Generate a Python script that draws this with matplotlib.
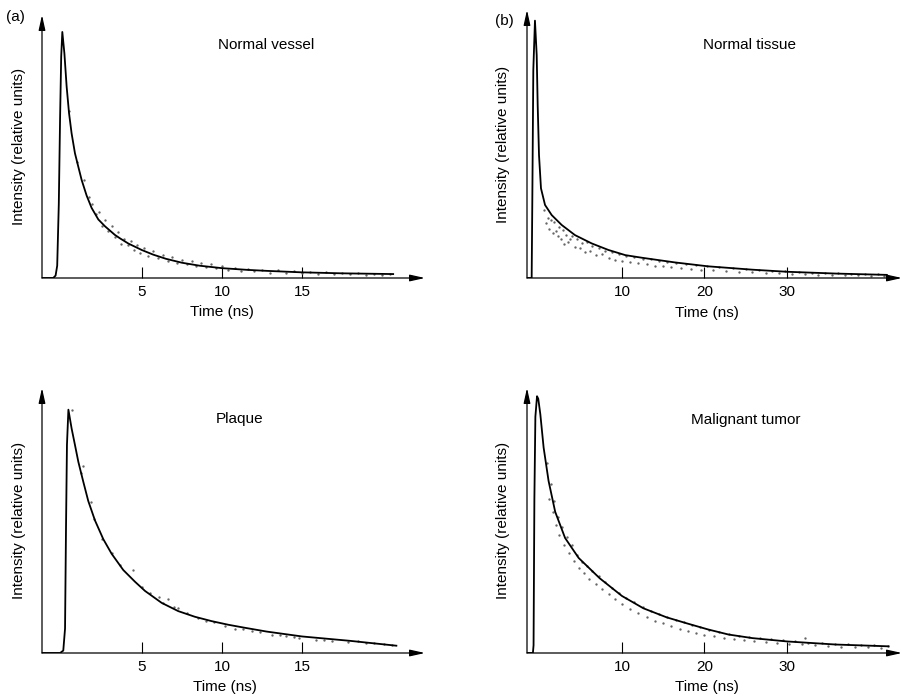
import matplotlib.pyplot as plt
import numpy as np

plt.rcParams['font.family'] = ['Liberation Sans', 'DejaVu Sans']

# ---- (a) normal vessel ----
a_curve_t = [-1.2, -0.55, -0.4, -0.3, -0.2, -0.12, -0.05, 0.02, 0.15, 0.29, 0.44, 0.6, 0.81,
             1.02, 1.23, 1.54, 1.85, 2.27, 2.69, 3.31, 3.63, 4.15, 4.98, 5.7, 6.5, 7.5, 8.6,
             10.0, 11.6, 12.8, 15.0, 17.5, 20.7]
a_curve_i = [0.0, 0.0, 0.01, 0.05, 0.3, 0.65, 0.9, 1.0, 0.913, 0.778, 0.67, 0.588, 0.507,
             0.452, 0.398, 0.335, 0.285, 0.238, 0.21, 0.175, 0.161, 0.14, 0.114, 0.095, 0.078,
             0.062, 0.05, 0.04, 0.033, 0.029, 0.023, 0.019, 0.016]
a_dot_t = [0.45, 0.95, 1.35, 1.7, 1.9, 2.1, 2.3, 2.5, 2.7, 2.9, 3.1, 3.3, 3.5, 3.7, 3.9, 4.1,
           4.3, 4.5, 4.7, 4.9, 5.1, 5.4, 5.7, 6.0, 6.3, 6.6, 6.9, 7.2, 7.5, 7.8, 8.1, 8.4, 8.7,
           9.0, 9.3, 9.6, 10.0, 10.4, 10.8, 11.2, 11.6, 12.0, 12.5, 13.0, 13.5, 14.0, 14.5,
           15.0, 15.5, 16.0, 16.5, 17.0, 17.5, 18.0, 18.5, 19.0, 19.5, 20.0, 20.5]
a_dot_i = [0.68, 0.47, 0.40, 0.33, 0.30, 0.26, 0.27, 0.21, 0.235, 0.19, 0.21, 0.165, 0.185,
           0.14, 0.16, 0.135, 0.15, 0.115, 0.135, 0.10, 0.12, 0.09, 0.108, 0.08, 0.095, 0.07,
           0.085, 0.062, 0.072, 0.055, 0.068, 0.05, 0.062, 0.043, 0.055, 0.04, 0.048, 0.034,
           0.042, 0.03, 0.038, 0.028, 0.034, 0.022, 0.031, 0.022, 0.028, 0.019, 0.026, 0.017,
           0.023, 0.016, 0.022, 0.015, 0.02, 0.014, 0.018, 0.013, 0.017]

# ---- (b) normal tissue ----
b_curve_t = [-1.5, -0.95, -0.87, -0.75, -0.55, -0.34, -0.22, -0.06, 0.18, 0.67, 1.48, 2.69,
             4.3, 6.33, 8.34, 10.4, 12.4, 14.4, 16.4, 20.4, 25.8, 30.0, 36.0, 42.1]
b_curve_i = [0.0, 0.0, 0.3, 0.8, 0.99, 0.858, 0.665, 0.473, 0.345, 0.281, 0.242, 0.204,
             0.165, 0.133, 0.108, 0.088, 0.078, 0.069, 0.06, 0.045, 0.032, 0.024, 0.017, 0.012]
b_dot_t = [0.6, 0.8, 1.0, 1.2, 1.4, 1.6, 1.8, 2.0, 2.2, 2.4, 2.6, 2.8, 3.0, 3.2, 3.4, 3.7, 4.0,
           4.3, 4.6, 4.9, 5.2, 5.5, 5.8, 6.1, 6.4, 6.8, 7.2, 7.6, 8.0, 8.4, 8.8, 9.2, 9.6, 10.0,
           10.5, 11.0, 11.5, 12.0, 12.5, 13.0, 13.5, 14.0, 14.5, 15.0, 15.5, 16.0, 16.6, 17.2,
           17.8, 18.4, 19.0, 19.6, 20.3, 21.0, 21.8, 22.6, 23.4, 24.2, 25.0, 25.8, 26.6, 27.4,
           28.2, 29.0, 29.8, 30.6, 31.4, 32.2, 33.0, 33.8, 34.6, 35.4, 36.2, 37.0, 37.8, 38.6,
           39.4, 40.2, 41.0, 41.8]
b_dot_i = [0.26, 0.21, 0.23, 0.19, 0.225, 0.175, 0.215, 0.18, 0.16, 0.195, 0.15, 0.185, 0.13,
           0.165, 0.14, 0.15, 0.16, 0.12, 0.15, 0.115, 0.135, 0.10, 0.14, 0.105, 0.125, 0.09,
           0.115, 0.092, 0.105, 0.078, 0.10, 0.07, 0.092, 0.066, 0.085, 0.06, 0.08, 0.058, 0.074,
           0.052, 0.072, 0.048, 0.066, 0.046, 0.062, 0.042, 0.058, 0.038, 0.052, 0.036, 0.05, 0.032,
           0.046, 0.03, 0.042, 0.028, 0.038, 0.025, 0.035, 0.022, 0.031, 0.02, 0.028, 0.018,
           0.026, 0.016, 0.024, 0.014, 0.021, 0.013, 0.02, 0.012, 0.018, 0.011, 0.016, 0.01,
           0.015, 0.009, 0.014, 0.009]

# ---- (c) plaque ----
c_curve_t = [-1.2, -0.12, 0.08, 0.19, 0.25, 0.31, 0.40, 0.6, 0.81, 1.02, 1.33, 1.64, 2.06,
             2.58, 3.1, 3.83, 4.56, 5.19, 6.23, 7.27, 8.3, 9.35, 10.4, 11.4, 12.8, 15.0, 18.0,
             20.9]
c_curve_i = [0.0, 0.0, 0.01, 0.1, 0.51, 0.855, 1.0, 0.923, 0.855, 0.786, 0.704, 0.625, 0.545,
             0.468, 0.408, 0.341, 0.293, 0.255, 0.206, 0.172, 0.149, 0.131, 0.116, 0.104, 0.088,
             0.068, 0.05, 0.03]
c_dot_t = [0.6, 1.33, 1.2, 1.8, 2.0, 2.5, 3.1, 3.6, 4.46, 5.0, 5.5, 6.04, 6.3, 6.6, 7.0, 7.25,
           7.8, 8.5, 9.0, 9.5, 10.2, 10.8, 11.3, 11.9, 12.4, 13.1, 13.6, 14.0, 14.5, 14.8, 15.9,
           16.4, 16.9, 17.9, 18.5, 19.0, 19.5, 20.1, 20.6]
c_dot_i = [1.0, 0.77, 0.74, 0.62, 0.55, 0.47, 0.41, 0.36, 0.34, 0.27, 0.245, 0.23, 0.205, 0.22,
           0.19, 0.185, 0.165, 0.144, 0.13, 0.128, 0.112, 0.10, 0.1, 0.092, 0.088, 0.075, 0.072,
           0.07, 0.066, 0.06, 0.055, 0.053, 0.05, 0.046, 0.048, 0.042, 0.04, 0.036, 0.033]

# ---- (d) malignant tumor ----
d_curve_t = [-1.5, -0.8, -0.72, -0.62, -0.5, -0.3, -0.15, 0.1, 0.5, 1.1, 1.9, 3.1, 4.75, 7.3,
             10.0, 12.6, 15.4, 17.8, 20.4, 22.9, 25.8, 30.0, 35.9, 42.3]
d_curve_i = [0.0, 0.0, 0.03, 0.6, 0.92, 1.0, 0.99, 0.93, 0.80, 0.67, 0.55, 0.448, 0.37, 0.291,
             0.222, 0.174, 0.139, 0.116, 0.092, 0.072, 0.058, 0.045, 0.033, 0.026]
d_dot_t = [0.9, 1.2, 1.4, 1.6, 1.8, 2.0, 2.2, 2.4, 2.7, 3.0, 3.3, 3.6, 3.9, 4.2, 4.5, 4.8, 5.1,
           5.4, 5.7, 6.0, 6.4, 6.8, 7.2, 7.6, 8.0, 8.4, 8.8, 9.2, 9.6, 10.0, 10.5, 11.0, 11.5,
           12.0, 12.5, 13.0, 13.5, 14.0, 14.5, 15.0, 15.5, 16.0, 16.5, 17.0, 17.5, 18.0, 18.5,
           19.0, 19.5, 20.0, 20.6, 21.2, 21.8, 22.4, 23.0, 23.6, 24.2, 24.8, 25.4, 26.0, 26.7,
           27.4, 28.1, 28.8, 29.5, 30.2, 31.0, 31.8, 32.2, 32.6, 33.4, 34.2, 35.0, 35.8, 36.6,
           37.4, 38.2, 39.0, 39.8, 40.6, 41.4, 42.2]
d_dot_i = [0.74, 0.60, 0.66, 0.55, 0.59, 0.50, 0.53, 0.46, 0.49, 0.42, 0.45, 0.39, 0.42, 0.36,
           0.38, 0.33, 0.355, 0.31, 0.34, 0.29, 0.32, 0.27, 0.30, 0.25, 0.275, 0.23, 0.255, 0.21,
           0.235, 0.19, 0.215, 0.17, 0.2, 0.155, 0.18, 0.14, 0.165, 0.125, 0.15, 0.115, 0.14,
           0.105, 0.13, 0.095, 0.12, 0.085, 0.108, 0.078, 0.1, 0.072, 0.09, 0.066, 0.082, 0.06,
           0.075, 0.055, 0.068, 0.05, 0.062, 0.046, 0.058, 0.042, 0.054, 0.04, 0.05, 0.036,
           0.047, 0.034, 0.058, 0.04, 0.03, 0.04, 0.027, 0.036, 0.025, 0.034, 0.023, 0.032,
           0.022, 0.03, 0.02, 0.027]

W, H = 904, 696
fig = plt.figure(figsize=(W / 100, H / 100), dpi=100)
FS = 11


def panel(box, xlim, ylim, ticks, ct, ci, dt, di, title, title_xy, xlab_x, ylab_x):
    left, right, top, bottom = box
    ax = fig.add_axes([left / W, 1 - bottom / H, (right - left) / W, (bottom - top) / H])
    ax.plot(dt, di, linestyle='none', marker='o', markersize=1.7, markeredgewidth=0,
            color='0.4')
    ax.plot(ct, ci, color='k', lw=1.3)
    ax.set_xlim(xlim)
    ax.set_ylim(ylim)
    for s in ax.spines.values():
        s.set_visible(False)
    arrow = dict(arrowstyle='-|>,head_length=0.9,head_width=0.2', color='k', lw=0.9,
                 shrinkA=0, shrinkB=0)
    ax.annotate('', xy=(1, 0), xytext=(0, 0), xycoords='axes fraction',
                arrowprops=arrow, annotation_clip=False)
    ax.annotate('', xy=(0, 1), xytext=(0, 0), xycoords='axes fraction',
                arrowprops=arrow, annotation_clip=False)
    ax.set_xticks(ticks)
    ax.set_xticklabels([str(t) for t in ticks])
    ax.set_yticks([])
    ax.tick_params(axis='x', direction='in', length=8, width=0.8, pad=5, labelsize=FS)
    ax.set_xlabel('Time (ns)', fontsize=FS)
    ax.xaxis.set_label_coords(xlab_x, -0.103)
    ax.set_ylabel('Intensity (relative units)', fontsize=FS)
    ax.yaxis.set_label_coords(ylab_x, 0.5)
    ax.text(title_xy[0], title_xy[1], title, transform=ax.transAxes, ha='center',
            va='center', fontsize=FS)
    return ax


panel((42, 425, 15, 278), (-1.25, 22.69), (0, 1.069), [5, 10, 15],
      a_curve_t, a_curve_i, a_dot_t, a_dot_i, 'Normal vessel', (0.585, 0.886), 0.47, -0.042)
panel((527, 902, 10, 278), (-1.515, 43.94), (0, 1.031), [10, 20, 30],
      b_curve_t, b_curve_i, b_dot_t, b_dot_i, 'Normal tissue', (0.594, 0.869), 0.48, -0.045)
panel((42, 425, 388, 653), (-1.25, 22.69), (0, 1.089), [5, 10, 15],
      c_curve_t, c_curve_i, c_dot_t, c_dot_i, 'Plaque', (0.517, 0.883), 0.478, -0.042)
panel((527, 902, 388, 653), (-1.515, 43.94), (0, 1.032), [10, 20, 30],
      d_curve_t, d_curve_i, d_dot_t, d_dot_i, 'Malignant tumor', (0.584, 0.880), 0.48, -0.045)

fig.text(15 / W, 1 - 17 / H, '(a)', ha='center', va='center', fontsize=FS)
fig.text(504 / W, 1 - 21 / H, '(b)', ha='center', va='center', fontsize=FS)

fig.savefig('out.png', dpi=100)
